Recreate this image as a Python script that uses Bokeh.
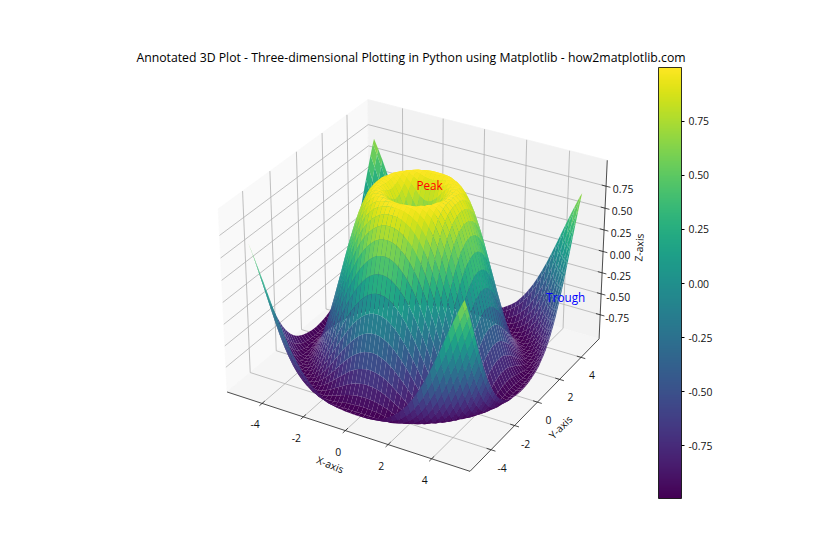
import numpy as np
from bokeh.plotting import figure
from bokeh.embed import file_html
from bokeh.resources import INLINE
from bokeh.core.properties import value
from bokeh.models import Range1d, ColumnDataSource, ColorBar, LinearColorMapper, FixedTicker
from bokeh.palettes import Viridis256

# ---- data ----
title = "Annotated 3D Plot - Three-dimensional Plotting in Python using Matplotlib - how2matplotlib.com"
radius_steps = [0.2 * i for i in range(37)]
height_by_radius = [0, .199, .389, .565, .717, .841, .932, .985, 1.0, .974, .909, .808, .675, .516, .335, .141,
                    -.058, -.256, -.443, -.612, -.757, -.872, -.952, -.994, -.996, -.959, -.883, -.773, -.631,
                    -.465, -.279, -.083, .117, .312, .494, .657, .794]
x_ticks = [-4, -2, 0, 2, 4]
y_ticks = [-4, -2, 0, 2, 4]
z_ticks = [-0.75, -0.5, -0.25, 0.0, 0.25, 0.5, 0.75]
z_labels = ["-0.75", "-0.50", "-0.25", "0.00", "0.25", "0.50", "0.75"]
notes = ["Peak", "Trough"]
notes_x = [0.0, 4.0]
notes_y = [0.0, 4.0]
notes_z = [1.035, -0.45]
notes_color = ["red", "blue"]
color_low, color_high = -0.993, 0.998

FONT = "Open Sans"
# view set-up
LIM_XY, LIM_Z = 5.5, 1.0
PANE_XY, PANE_Z = 5.5 + 11 / 48, 1.0 + 2 / 48
SCALE, CX, CY = 2338.0, 416.0, 276.0

box = np.array([4.0, 4.0, 3.0])
box = box * 1.8294640721620434 / np.linalg.norm(box)
R = box / 2
el, az = np.radians(30), np.radians(-60)
w = np.array([np.cos(el) * np.cos(az), np.cos(el) * np.sin(az), np.sin(el)])
eye = R + 10 * w
u = np.cross([0, 0, 1], w); u /= np.linalg.norm(u)
v = np.cross(w, u)


def project(x, y, z):
    x, y, z = np.asarray(x, float), np.asarray(y, float), np.asarray(z, float)
    wx = (x + LIM_XY) / (2 * LIM_XY) * box[0] - eye[0]
    wy = (y + LIM_XY) / (2 * LIM_XY) * box[1] - eye[1]
    wz = (z + LIM_Z) / (2 * LIM_Z) * box[2] - eye[2]
    cu = wx * u[0] + wy * u[1] + wz * u[2]
    cv = wx * v[0] + wy * v[1] + wz * v[2]
    cw = wx * w[0] + wy * w[1] + wz * w[2]
    return CX + SCALE * cu / (-cw), CY - SCALE * cv / (-cw), cw


p = figure(width=824, height=544, x_range=Range1d(0, 824), y_range=Range1d(544, 0),
           x_axis_type=None, y_axis_type=None, toolbar_location=None, output_backend="svg",
           min_border=0, outline_line_color=None, background_fill_color="white")
p.grid.visible = False

# panes
P, Q = PANE_XY, PANE_Z
panes = [
    ((-P, -P, -P, -P), (-P, P, P, -P), (-Q, -Q, Q, Q), "#f9f9f9"),
    ((-P, P, P, -P), (P, P, P, P), (-Q, -Q, Q, Q), "#f2f2f2"),
    ((-P, P, P, -P), (-P, -P, P, P), (-Q, -Q, -Q, -Q), "#f5f5f5"),
]
for xs, ys, zs, col in panes:
    a, b, _ = project(xs, ys, zs)
    p.patch(list(a), list(b), fill_color=col, line_color=col, line_width=0.8)

# grid lines
gx, gy = [], []
for t in x_ticks:
    a, b, _ = project([t, t, t], [-P, P, P], [-Q, -Q, Q])
    gx.append(list(a)); gy.append(list(b))
for t in y_ticks:
    a, b, _ = project([P, -P, -P], [t, t, t], [-Q, -Q, Q])
    gx.append(list(a)); gy.append(list(b))
for t in z_ticks:
    a, b, _ = project([-P, -P, P], [-P, P, P], [t, t, t])
    gx.append(list(a)); gy.append(list(b))
p.multi_line(gx, gy, line_color="#b0b0b0", line_width=0.8)

# axis lines and ticks
axes3d = [([-P, P], [-P, -P], [-Q, -Q]), ([P, P], [-P, P], [-Q, -Q]), ([P, P], [P, P], [-Q, Q])]
for xs, ys, zs in axes3d:
    a, b, _ = project(xs, ys, zs)
    p.line(list(a), list(b), line_color="#222222", line_width=0.8)

TICK_XY = 0.2
tx, ty = [], []
for t in x_ticks:
    a, b, _ = project([t, t], [-P - TICK_XY, -P + TICK_XY], [-Q, -Q])
    tx.append(list(a)); ty.append(list(b))
for t in y_ticks:
    a, b, _ = project([P - TICK_XY, P + TICK_XY], [t, t], [-Q, -Q])
    tx.append(list(a)); ty.append(list(b))
for t in z_ticks:
    a, b, _ = project([P - TICK_XY, P + TICK_XY], [P, P], [t, t])
    tx.append(list(a)); ty.append(list(b))
p.multi_line(tx, ty, line_color="#222222", line_width=0.8)

# surface
grid_idx = list(range(0, 99, 2)) + [99]
axis_vals = np.linspace(-5, 5, 100)[grid_idx]
XX, YY = np.meshgrid(axis_vals, axis_vals)
ZZ = np.interp(np.hypot(XX, YY), radius_steps, height_by_radius)
SX, SY, SD = project(XX, YY, ZZ)
polys = []
for i in range(len(axis_vals) - 1):
    for j in range(len(axis_vals) - 1):
        ii = [i, i, i + 1, i + 1]
        jj = [j, j + 1, j + 1, j]
        zm = ZZ[ii, jj].mean()
        k = int(np.clip((zm - color_low) / (color_high - color_low) * 256, 0, 255))
        polys.append((SD[ii, jj].mean(), list(SX[ii, jj]), list(SY[ii, jj]), Viridis256[k]))
polys.sort(key=lambda r: r[0])
src = ColumnDataSource(dict(xs=[r[1] for r in polys], ys=[r[2] for r in polys], c=[r[3] for r in polys]))
p.patches("xs", "ys", source=src, fill_color="c", line_color=None)

# annotations
a, b, _ = project(notes_x, notes_y, notes_z)
p.text(list(a), list(b), text=notes, text_color=notes_color, text_font=value(FONT), text_font_size="11.7px",
       text_align="left", text_baseline="alphabetic")

# tick labels
lab = dict(text_font=value(FONT), text_font_size="10.4px", text_color="#111111", text_align="center", text_baseline="middle")
a, b, _ = project(x_ticks, [-P] * 5, [-Q] * 5)
p.text(list(a - 7), list(b + 21), text=[str(t) for t in x_ticks], **lab)
a, b, _ = project([P] * 5, y_ticks, [-Q] * 5)
p.text(list(a + 11), list(b + 18), text=[str(t) for t in y_ticks], **lab)
a, b, _ = project([P] * 7, [P] * 7, z_ticks)
p.text(list(a + 17), list(b + 3), text=z_labels, **lab)

# axis titles
a, b, _ = project([0], [-P], [-Q])
p.text(list(a - 15), list(b + 34), text=["X-axis"], angle=np.radians(-22), **lab)
a, b, _ = project([P], [0], [-Q])
p.text(list(a + 23), list(b + 25), text=["Y-axis"], angle=np.radians(45), **lab)
a, b, _ = project([P], [P], [0])
p.text(list(a + 36), list(b - 4), text=["Z-axis"], angle=np.radians(87), **lab)

# title
p.text([410.5], [57], text=[title], text_font=value(FONT), text_font_size="12.25px", text_color="black",
       text_align="center", text_baseline="middle")

# colour bar
mapper = LinearColorMapper(palette=Viridis256, low=color_low, high=color_high)
cb = ColorBar(color_mapper=mapper, location=(658, 46), width=23, height=431, padding=0, margin=0,
              ticker=FixedTicker(ticks=z_ticks), major_label_overrides=dict(zip(z_ticks, z_labels)),
              major_label_text_font=FONT, major_label_text_font_size="10.4px", major_label_text_color="#111111",
              major_tick_in=0, major_tick_out=3, major_tick_line_color="black", minor_tick_line_color=None,
              bar_line_color="black", bar_line_width=0.8, border_line_color=None, background_fill_alpha=0,
              label_standoff=4)
p.add_layout(cb, "center")

open("out.html", "w").write(file_html(p, INLINE))
